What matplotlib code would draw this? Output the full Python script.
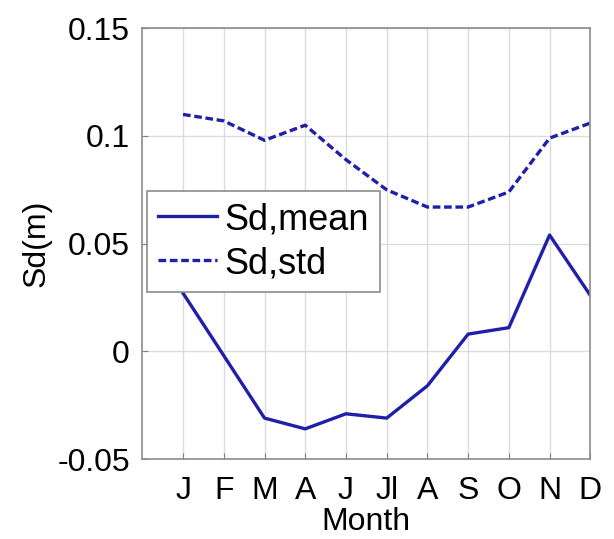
import numpy as np
import matplotlib
matplotlib.use("Agg")
import matplotlib.pyplot as plt

plt.rcParams['font.family'] = ['Liberation Sans', 'DejaVu Sans']

# month labels as printed on the original axis
months = ['J', 'F', 'M', 'A', 'J', 'Jl', 'A', 'S', 'O', 'N', 'D']
sd_mean = [0.027, -0.002, -0.031, -0.036, -0.029, -0.031, -0.016, 0.008, 0.011, 0.054, 0.026]
sd_std = [0.110, 0.107, 0.098, 0.105, 0.089, 0.075, 0.067, 0.067, 0.074, 0.099, 0.106]
yticks = [-0.05, 0, 0.05, 0.1, 0.15]
ytick_labels = ['-0.05', '0', '0.05', '0.1', '0.15']

x = np.arange(1, len(months) + 1)
line_col = '#1f1fa8'

fig = plt.figure(figsize=(6.14, 5.39), dpi=100)
ax = fig.add_axes([0.2318, 0.1484, 0.7296, 0.7991])

ax.plot(x, sd_mean, '-', color=line_col, lw=2.4, label='Sd,mean')
ax.plot(x, sd_std, '--', color=line_col, lw=2.4, dashes=(2.3, 1.1), label='Sd,std')

ax.set_xlim(0, len(months))
ax.set_ylim(-0.05, 0.15)
ax.set_xticks(x)
ax.set_xticklabels(months)
ax.set_yticks(yticks)
ax.set_yticklabels(ytick_labels)
ax.grid(True, color='#dcdcdc', lw=1)
ax.set_axisbelow(True)
ax.tick_params(direction='in', length=4, color='#808080', labelsize=23)
ax.tick_params(axis='x', pad=12)
ax.tick_params(axis='y', pad=9)
for s in ax.spines.values():
    s.set_color('#8c8c8c')
    s.set_linewidth(1.2)

ax.set_xlabel('Month', fontsize=23, labelpad=1)
ax.set_ylabel('Sd(m)', fontsize=23, labelpad=4)

leg = ax.legend(loc='lower left', bbox_to_anchor=(0.01, 0.388), borderaxespad=0,
                fontsize=26, fancybox=False, framealpha=1, edgecolor='#8c8c8c',
                handlelength=1.65, handletextpad=0.2, borderpad=0.3, labelspacing=0.25)
leg.get_frame().set_linewidth(1.2)

plt.savefig('out.png', dpi=100)
